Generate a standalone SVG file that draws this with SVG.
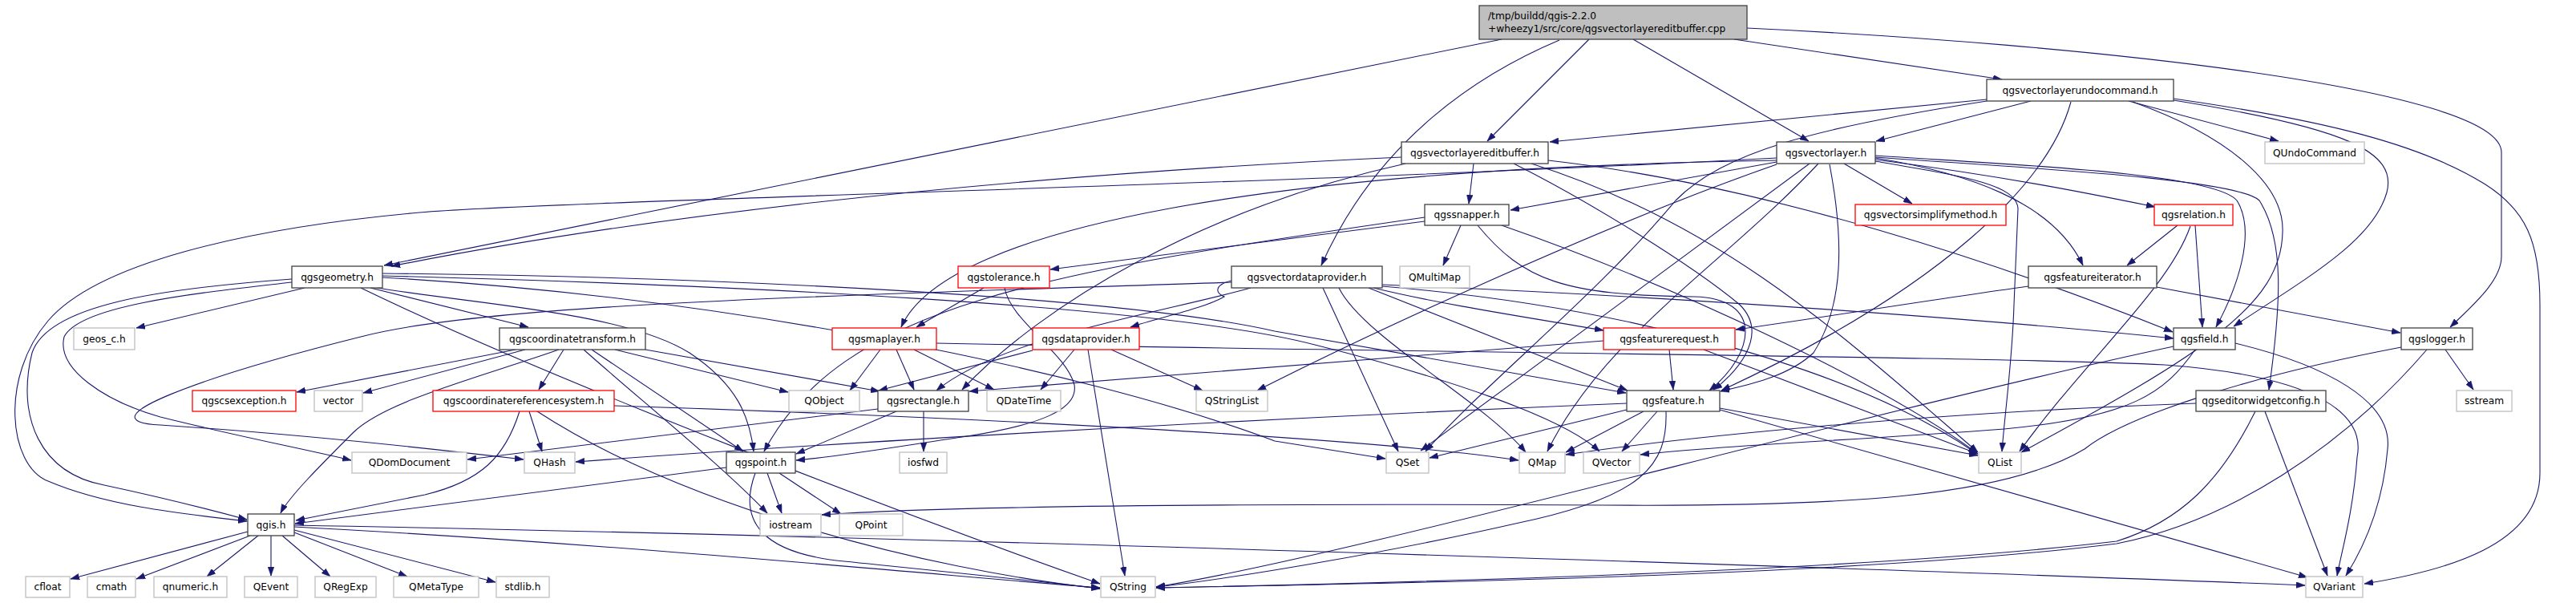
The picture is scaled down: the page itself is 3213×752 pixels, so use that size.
<svg xmlns="http://www.w3.org/2000/svg" width="3213" height="752" viewBox="0 0 3213 752">
<defs>
<style>
.e{fill:none;stroke:#191970;stroke-width:1.1;marker-end:url(#a)}
.b{fill:#fff;stroke:#404040;stroke-width:1.3}
.r{fill:#fff;stroke:#ff0000;stroke-width:1.3}
.g{fill:#fff;stroke:#bfbfbf;stroke-width:1.3}
.root{fill:#bfbfbf;stroke:#404040;stroke-width:1.3}
text{font-family:"DejaVu Sans","Liberation Sans",sans-serif;font-size:12.2px;fill:#000}
.c{text-anchor:middle}
</style>
<marker id="a" markerUnits="userSpaceOnUse" markerWidth="11" markerHeight="8" viewBox="0 0 10 7" refX="10" refY="3.5" orient="auto"><path d="M0,0 L10,3.5 L0,7 z" fill="#191970" stroke="#191970" stroke-width="0.5"/></marker>
</defs>
<rect width="3213" height="752" fill="#fff"/>
<g id="edges">
<path class="e" d="M1873,49 L479,331"/>
<path class="e" d="M1945,50 C1850,90 1720,170 1648,331"/>
<path class="e" d="M1982,49 L1855,176"/>
<path class="e" d="M2037,49 L2256,176"/>
<path class="e" d="M2163,49 L2497,99"/>
<path class="e" d="M2179,35 C2600,55 3120,110 3120,190 L3120,320 C3120,350 3085,380 3056,408"/>
<path class="e" d="M2478,124 L1933,177"/>
<path class="e" d="M2533,126 L2340,176"/>
<path class="e" d="M2655,126 L2842,176"/>
<path class="e" d="M2711,123 C2900,150 3020,180 3100,230 C3150,262 3168,300 3168,380 L3168,590 C3168,680 3050,712 2949,728"/>
<path class="e" d="M2711,125 C2930,160 2990,190 2977,240 C2960,300 2880,345 2786,407"/>
<path class="e" d="M2583,127 C2555,230 2420,360 2147,487"/>
<path class="e" d="M2478,126 C2260,160 2150,190 2090,250 C1990,370 1850,480 1778,563"/>
<path class="e" d="M2660,127 C2780,170 2850,230 2847,290 C2845,380 2750,440 2521,564"/>
<path class="e" d="M1748,196 C1400,212 900,250 488,332"/>
<path class="e" d="M1838,204 L1832,254"/>
<path class="e" d="M1888,204 C1980,250 2110,330 2170,380 C2210,420 2160,470 2137,486"/>
<path class="e" d="M1931,200 C2200,230 2500,330 2710,414"/>
<path class="e" d="M1910,204 C2150,280 2300,420 2467,564"/>
<path class="e" d="M1753,204 C1500,260 1300,380 1200,486"/>
<path class="e" d="M2216,202 L1884,262"/>
<path class="e" d="M2300,204 L2385,254"/>
<path class="e" d="M2339,199 C2500,220 2600,240 2688,258"/>
<path class="e" d="M2339,197 C2450,215 2560,250 2598,331"/>
<path class="e" d="M2339,194 C2500,205 2760,215 2790,250 C2815,290 2790,360 2764,408"/>
<path class="e" d="M2339,196 C2500,208 2790,222 2818,250 C2850,300 2845,380 2830,486"/>
<path class="e" d="M2339,201 C2450,220 2515,230 2517,260 L2512,380 C2510,450 2500,520 2497,563"/>
<path class="e" d="M2257,204 L1772,562"/>
<path class="e" d="M2268,204 C2150,330 2000,420 1930,563"/>
<path class="e" d="M2216,205 C2000,280 1700,420 1568,487"/>
<path class="e" d="M2282,205 C2300,300 2300,380 2262,440 C2230,470 2180,480 2146,488"/>
<path class="e" d="M2216,200 C1600,210 1180,280 1124,408"/>
<path class="e" d="M2216,197 C1600,230 700,250 523,265 C300,285 120,330 60,400 C0,470 10,580 60,600 C130,630 220,640 308,650"/>
<path class="e" d="M380,359 L170,409"/>
<path class="e" d="M364,348 C200,360 60,380 40,440 C20,520 50,590 130,605 C200,620 260,635 308,648"/>
<path class="e" d="M364,352 C250,365 100,380 80,420 C70,460 130,500 200,520 C300,545 380,560 438,574"/>
<path class="e" d="M470,359 C600,380 780,390 860,440 C920,480 935,520 940,563"/>
<path class="e" d="M462,359 L659,408"/>
<path class="e" d="M450,359 C700,480 1150,650 1372,728"/>
<path class="e" d="M477,344 C900,355 1450,380 1640,430 C1800,470 1950,520 1995,563"/>
<path class="e" d="M477,346 C900,370 1350,460 1590,550 C1650,560 1690,566 1728,572"/>
<path class="e" d="M477,341 C900,345 1400,370 1590,413 L2028,490"/>
<path class="e" d="M703,436 L672,486"/>
<path class="e" d="M767,436 L983,489"/>
<path class="e" d="M738,436 L927,563"/>
<path class="e" d="M728,436 C800,500 900,580 957,640"/>
<path class="e" d="M643,436 L370,489"/>
<path class="e" d="M655,436 L453,490"/>
<path class="e" d="M805,436 L1097,488"/>
<path class="e" d="M697,436 C600,470 480,500 440,540 C400,580 360,620 350,640"/>
<path class="e" d="M660,513 L676,563"/>
<path class="e" d="M648,513 C630,570 600,600 530,617 L369,649"/>
<path class="e" d="M670,513 C850,630 1150,710 1372,734"/>
<path class="e" d="M766,506 C1200,520 1700,545 1894,574"/>
<path class="e" d="M1152,513 L1152,563"/>
<path class="e" d="M1118,513 L993,566"/>
<path class="e" d="M1095,510 L583,573"/>
<path class="e" d="M906,583 L368,653"/>
<path class="e" d="M957,590 L975,640"/>
<path class="e" d="M972,590 L1049,641"/>
<path class="e" d="M942,590 C920,650 950,690 1053,700 C1200,715 1300,725 1372,734"/>
<path class="e" d="M309,663 L88,722"/>
<path class="e" d="M312,668 L170,722"/>
<path class="e" d="M322,668 L258,719"/>
<path class="e" d="M338,668 L338,718"/>
<path class="e" d="M352,668 L412,719"/>
<path class="e" d="M367,664 L508,719"/>
<path class="e" d="M367,661 L618,726"/>
<path class="e" d="M367,657 C800,680 1200,720 1372,733"/>
<path class="e" d="M367,655 C1200,670 2500,715 2875,730"/>
<path class="e" d="M1227,359 L1143,408"/>
<path class="e" d="M1253,359 C1260,400 1330,440 1340,480 C1345,510 1300,530 1200,545 C1100,560 1040,570 993,574"/>
<path class="e" d="M1777,276 L1310,336"/>
<path class="e" d="M1822,281 L1800,331"/>
<path class="e" d="M1777,271 C1300,340 1050,380 953,563"/>
<path class="e" d="M1843,281 C1900,350 1950,368 2113,370 C2200,372 2190,440 2132,487"/>
<path class="e" d="M1873,281 C2100,360 2350,480 2466,565"/>
<path class="e" d="M2029,511 L1783,571"/>
<path class="e" d="M2050,513 L1953,564"/>
<path class="e" d="M2067,513 L2023,563"/>
<path class="e" d="M2029,503 C1500,525 1000,555 718,576"/>
<path class="e" d="M2078,513 C2080,580 2050,620 1890,653 C1750,685 1550,720 1442,732"/>
<path class="e" d="M2145,511 L2878,720"/>
<path class="e" d="M2145,509 L2467,568"/>
<path class="e" d="M2082,436 L2087,486"/>
<path class="e" d="M2000,425 L1209,488"/>
<path class="e" d="M2125,436 L2467,566"/>
<path class="e" d="M2530,357 C2400,375 2280,395 2165,411"/>
<path class="e" d="M2690,358 L2994,415"/>
<path class="e" d="M2716,281 L2653,331"/>
<path class="e" d="M2738,281 L2747,408"/>
<path class="e" d="M2732,282 C2705,360 2600,450 2519,563"/>
<path class="e" d="M2788,428 C2900,455 2985,500 2978,560 C2972,630 2950,680 2926,718"/>
<path class="e" d="M2738,436 C2700,490 2660,520 2500,535 C2300,550 2150,555 2046,567"/>
<path class="e" d="M2711,432 C2300,520 1700,690 1442,732"/>
<path class="e" d="M3050,436 L3085,486"/>
<path class="e" d="M3027,436 C2920,560 2780,650 2640,678 C2300,720 1700,728 1442,733"/>
<path class="e" d="M2995,433 C2800,470 2650,520 2600,560 C2500,620 2300,632 2000,630 C1600,628 1200,630 1025,642"/>
<path class="e" d="M2739,503 C2400,515 2100,545 1953,567"/>
<path class="e" d="M2813,513 C2770,600 2720,650 2640,675 C2300,715 1700,728 1442,733"/>
<path class="e" d="M2825,513 L2903,718"/>
<path class="e" d="M1340,436 L1298,486"/>
<path class="e" d="M1386,436 L1500,487"/>
<path class="e" d="M1357,436 L1403,718"/>
<path class="e" d="M1288,437 L1096,487"/>
<path class="e" d="M1536,350 C1515,355 1515,365 1527,370 C1500,385 1450,395 1410,408"/>
<path class="e" d="M1650,359 L1744,563"/>
<path class="e" d="M1670,359 C1700,420 1850,500 1903,564"/>
<path class="e" d="M1707,359 L2030,487"/>
<path class="e" d="M1713,359 C1800,380 1900,395 2000,412"/>
<path class="e" d="M1724,355 C2100,370 2500,400 2711,422"/>
<path class="e" d="M1724,357 C2000,380 2300,450 2466,566"/>
<path class="e" d="M1560,359 C1450,390 1250,420 1168,487"/>
<path class="e" d="M1536,352 C1000,370 600,380 450,420 C250,470 100,525 200,530 C350,540 500,555 653,573"/>
<path class="e" d="M1098,436 L1060,487"/>
<path class="e" d="M1118,436 L1140,486"/>
<path class="e" d="M1140,436 L1240,486"/>
<path class="e" d="M1168,428 C1800,440 2500,445 2700,455 C2900,470 2950,520 2940,570 C2935,640 2920,690 2915,718"/>
</g>
<g id="n_root"><rect class="root" x="1845" y="7" width="334" height="42"/><text x="1856" y="24">/tmp/buildd/qgis-2.2.0</text><text x="1856" y="40">+wheezy1/src/core/qgsvectorlayereditbuffer.cpp</text></g>
<g id="n_undo"><rect class="b" x="2478" y="99" width="233" height="27"/><text class="c" x="2594.5" y="117">qgsvectorlayerundocommand.h</text></g>
<g id="n_editbuffer"><rect class="b" x="1748" y="177" width="183" height="27"/><text class="c" x="1839.5" y="195">qgsvectorlayereditbuffer.h</text></g>
<g id="n_vectorlayer"><rect class="b" x="2216" y="177" width="123" height="27"/><text class="c" x="2277.5" y="195">qgsvectorlayer.h</text></g>
<g id="n_qundocommand"><rect class="g" x="2825" y="177" width="124" height="27"/><text class="c" x="2887" y="195">QUndoCommand</text></g>
<g id="n_snapper"><rect class="b" x="1777" y="255" width="105" height="26"/><text class="c" x="1829.5" y="272">qgssnapper.h</text></g>
<g id="n_simplify"><rect class="r" x="2314" y="255" width="188" height="26"/><text class="c" x="2408" y="272">qgsvectorsimplifymethod.h</text></g>
<g id="n_relation"><rect class="r" x="2687" y="255" width="98" height="26"/><text class="c" x="2736" y="272">qgsrelation.h</text></g>
<g id="n_geometry"><rect class="b" x="364" y="332" width="113" height="27"/><text class="c" x="420.5" y="350">qgsgeometry.h</text></g>
<g id="n_tolerance"><rect class="r" x="1195" y="332" width="114" height="27"/><text class="c" x="1252" y="350">qgstolerance.h</text></g>
<g id="n_vdp"><rect class="b" x="1536" y="332" width="188" height="27"/><text class="c" x="1630" y="350">qgsvectordataprovider.h</text></g>
<g id="n_qmultimap"><rect class="g" x="1746" y="332" width="87" height="27"/><text class="c" x="1789.5" y="350">QMultiMap</text></g>
<g id="n_featureiterator"><rect class="b" x="2530" y="332" width="160" height="27"/><text class="c" x="2610" y="350">qgsfeatureiterator.h</text></g>
<g id="n_geos"><rect class="g" x="92" y="409" width="76" height="27"/><text class="c" x="130" y="427">geos_c.h</text></g>
<g id="n_ct"><rect class="b" x="623" y="409" width="182" height="27"/><text class="c" x="714" y="427">qgscoordinatetransform.h</text></g>
<g id="n_maplayer"><rect class="r" x="1038" y="409" width="130" height="27"/><text class="c" x="1103" y="427">qgsmaplayer.h</text></g>
<g id="n_dataprovider"><rect class="r" x="1288" y="409" width="133" height="27"/><text class="c" x="1354.5" y="427">qgsdataprovider.h</text></g>
<g id="n_featurerequest"><rect class="r" x="2000" y="409" width="164" height="27"/><text class="c" x="2082" y="427">qgsfeaturerequest.h</text></g>
<g id="n_field"><rect class="b" x="2711" y="409" width="77" height="27"/><text class="c" x="2749.5" y="427">qgsfield.h</text></g>
<g id="n_logger"><rect class="b" x="2995" y="409" width="89" height="27"/><text class="c" x="3039.5" y="427">qgslogger.h</text></g>
<g id="n_csexception"><rect class="r" x="240" y="487" width="129" height="26"/><text class="c" x="304.5" y="504">qgscsexception.h</text></g>
<g id="n_vector"><rect class="g" x="392" y="487" width="60" height="26"/><text class="c" x="422" y="504">vector</text></g>
<g id="n_crs"><rect class="r" x="540" y="487" width="226" height="26"/><text class="c" x="653" y="504">qgscoordinatereferencesystem.h</text></g>
<g id="n_qobject"><rect class="g" x="984" y="487" width="88" height="26"/><text class="c" x="1028" y="504">QObject</text></g>
<g id="n_rectangle"><rect class="b" x="1095" y="487" width="113" height="26"/><text class="c" x="1151.5" y="504">qgsrectangle.h</text></g>
<g id="n_qdatetime"><rect class="g" x="1231" y="487" width="92" height="26"/><text class="c" x="1277" y="504">QDateTime</text></g>
<g id="n_qstringlist"><rect class="g" x="1492" y="487" width="89" height="26"/><text class="c" x="1536.5" y="504">QStringList</text></g>
<g id="n_feature"><rect class="b" x="2029" y="487" width="116" height="26"/><text class="c" x="2087" y="504">qgsfeature.h</text></g>
<g id="n_ewc"><rect class="b" x="2739" y="487" width="162" height="26"/><text class="c" x="2820" y="504">qgseditorwidgetconfig.h</text></g>
<g id="n_sstream"><rect class="g" x="3064" y="487" width="69" height="26"/><text class="c" x="3098.5" y="504">sstream</text></g>
<g id="n_qdomdocument"><rect class="g" x="439" y="564" width="143" height="26"/><text class="c" x="510.5" y="581">QDomDocument</text></g>
<g id="n_qhash"><rect class="g" x="654" y="564" width="63" height="26"/><text class="c" x="685.5" y="581">QHash</text></g>
<g id="n_point"><rect class="b" x="906" y="564" width="86" height="26"/><text class="c" x="949" y="581">qgspoint.h</text></g>
<g id="n_iosfwd"><rect class="g" x="1122" y="564" width="59" height="26"/><text class="c" x="1151.5" y="581">iosfwd</text></g>
<g id="n_qset"><rect class="g" x="1729" y="564" width="53" height="26"/><text class="c" x="1755.5" y="581">QSet</text></g>
<g id="n_qmap"><rect class="g" x="1895" y="564" width="57" height="26"/><text class="c" x="1923.5" y="581">QMap</text></g>
<g id="n_qvector"><rect class="g" x="1975" y="564" width="70" height="26"/><text class="c" x="2010" y="581">QVector</text></g>
<g id="n_qlist"><rect class="g" x="2468" y="564" width="53" height="26"/><text class="c" x="2494.5" y="581">QList</text></g>
<g id="n_qgis"><rect class="b" x="309" y="641" width="58" height="27"/><text class="c" x="338" y="659">qgis.h</text></g>
<g id="n_iostream"><rect class="g" x="948" y="641" width="76" height="27"/><text class="c" x="986" y="659">iostream</text></g>
<g id="n_qpoint"><rect class="g" x="1047" y="641" width="79" height="27"/><text class="c" x="1086.5" y="659">QPoint</text></g>
<g id="n_cfloat"><rect class="g" x="32" y="719" width="55" height="26"/><text class="c" x="59.5" y="736">cfloat</text></g>
<g id="n_cmath"><rect class="g" x="109" y="719" width="60" height="26"/><text class="c" x="139" y="736">cmath</text></g>
<g id="n_qnumeric"><rect class="g" x="192" y="719" width="91" height="26"/><text class="c" x="237.5" y="736">qnumeric.h</text></g>
<g id="n_qevent"><rect class="g" x="305" y="719" width="66" height="26"/><text class="c" x="338" y="736">QEvent</text></g>
<g id="n_qregexp"><rect class="g" x="393" y="719" width="76" height="26"/><text class="c" x="431" y="736">QRegExp</text></g>
<g id="n_qmetatype"><rect class="g" x="491" y="719" width="106" height="26"/><text class="c" x="544" y="736">QMetaType</text></g>
<g id="n_stdlib"><rect class="g" x="619" y="719" width="66" height="26"/><text class="c" x="652" y="736">stdlib.h</text></g>
<g id="n_qstring"><rect class="g" x="1373" y="719" width="68" height="26"/><text class="c" x="1407" y="736">QString</text></g>
<g id="n_qvariant"><rect class="g" x="2876" y="719" width="71" height="26"/><text class="c" x="2911.5" y="736">QVariant</text></g>
</svg>
